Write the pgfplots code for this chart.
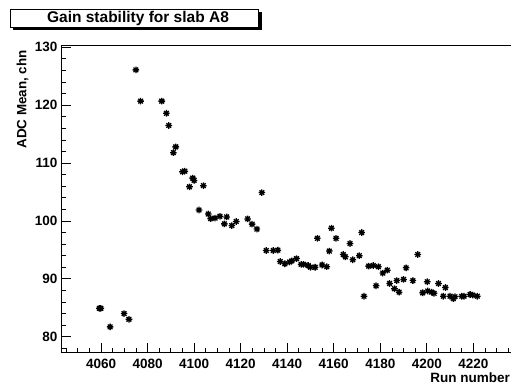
\documentclass[border=0pt]{standalone}
\usepackage{fontspec}
\setmainfont{Liberation Sans}
\usepackage{pgfplots}
\pgfplotsset{compat=1.18}
\pgfdeclareplotmark{star8}{%
 \pgfpathmoveto{\pgfqpoint{-\pgfplotmarksize}{0pt}}\pgfpathlineto{\pgfqpoint{\pgfplotmarksize}{0pt}}%
 \pgfpathmoveto{\pgfqpoint{0pt}{-\pgfplotmarksize}}\pgfpathlineto{\pgfqpoint{0pt}{\pgfplotmarksize}}%
 \pgfpathmoveto{\pgfqpoint{-0.707\pgfplotmarksize}{-0.707\pgfplotmarksize}}\pgfpathlineto{\pgfqpoint{0.707\pgfplotmarksize}{0.707\pgfplotmarksize}}%
 \pgfpathmoveto{\pgfqpoint{-0.707\pgfplotmarksize}{0.707\pgfplotmarksize}}\pgfpathlineto{\pgfqpoint{0.707\pgfplotmarksize}{-0.707\pgfplotmarksize}}%
 \pgfusepathqstroke}
\begin{document}
\begin{tikzpicture}[x=1pt,y=1pt]
\begin{axis}[at={(61pt,-352.7pt)}, anchor=south west, scale only axis,
  width=458.9pt, height=307.7pt,
  xmin=4042.8, xmax=4240, ymin=77.24, ymax=130.4,
  xtick={4060,4080,...,4220}, ytick={80,90,...,130},
  minor xtick={4045,4050,...,4235}, minor ytick={78,80,...,130},
  tick align=inside, xtick pos=left, ytick pos=left,
  major tick length=10pt, minor tick length=5pt,
  tick style={black, line width=0.8pt},
  axis line style={line width=0.8pt},
  ticklabel style={font=\bfseries\fontsize{13.5}{15}\selectfont},
  xticklabel style={yshift=-3pt},
  /pgf/number format/assume math mode=true,
  /pgf/number format/1000 sep={},
]
\addplot[only marks, mark=star8, mark size=3.3pt, mark options={line width=1.3pt, black}] coordinates {
(4059.3,84.9) (4059.9,84.9) (4063.9,81.7) (4069.9,84.0) (4072.0,83.0)
(4075.0,126.1) (4077.0,120.7) (4086.1,120.7) (4088.1,118.6) (4089.1,116.5)
(4091.1,111.8) (4092.1,112.8) (4095.0,108.5) (4096.0,108.6) (4098.0,105.9)
(4099.4,107.4) (4100.0,107.0) (4102.1,101.9) (4104.0,106.1) (4106.1,101.2)
(4107.1,100.4) (4109.0,100.5) (4111.1,100.8) (4113.0,99.5) (4114.0,100.7)
(4116.2,99.2) (4118.1,99.9) (4123.0,100.35) (4124.9,99.45) (4127.0,98.6)
(4129.1,104.9) (4131.0,94.9) (4134.0,94.9) (4136.0,94.95) (4137.0,93.0)
(4139.0,92.6) (4141.0,92.9) (4142.0,93.1) (4144.0,93.5) (4146.0,92.5)
(4147.0,92.5) (4149.0,92.3) (4150.0,92.0) (4152.0,92.0) (4153.0,97.0)
(4155.0,92.4) (4157.0,92.1) (4158.1,94.8) (4159.0,98.75) (4161.0,97.0)
(4164.1,94.2) (4165.0,93.8) (4167.0,96.1) (4168.2,93.3) (4171.0,94.0)
(4172.0,98.0) (4173.0,87.0) (4175.0,92.2) (4177.0,92.3) (4178.2,88.8)
(4179.2,92.1) (4181.1,91.0) (4183.0,91.5) (4184.0,89.2) (4186.1,88.3)
(4187.1,89.7) (4188.1,87.7) (4190.0,89.9) (4191.1,91.9) (4194.0,89.7)
(4196.1,94.2) (4198.2,87.6) (4200.2,89.5) (4200.4,87.9) (4202.1,87.7)
(4203.1,87.5) (4205.0,89.2) (4207.1,87.0) (4208.0,88.5) (4210.0,87.0)
(4211.4,86.6) (4212.1,86.9) (4215.0,87.0) (4216.0,87.0) (4218.6,87.3)
(4219.7,87.2) (4221.7,87.0)
};
\end{axis}
\fill[black] (13,-12) rectangle (261.5,-30.5);
\draw[fill=white, line width=0.8pt] (10,-9) rectangle (258.5,-27.5);
\node[font=\bfseries\fontsize{15.5}{17}\selectfont, inner sep=0pt] at (138,-18.5) {Gain stability for slab A8};
\node[font=\bfseries\fontsize{13.4}{15}\selectfont, rotate=90, anchor=east, inner sep=0pt] at (22.5,-50) {ADC Mean, chn};
\node[font=\bfseries\fontsize{13.5}{15}\selectfont, anchor=base east, inner sep=0pt] at (510,-382) {Run number};
\pgfresetboundingbox
\path[use as bounding box] (0,0) rectangle (511,-385);
\end{tikzpicture}
\end{document}
